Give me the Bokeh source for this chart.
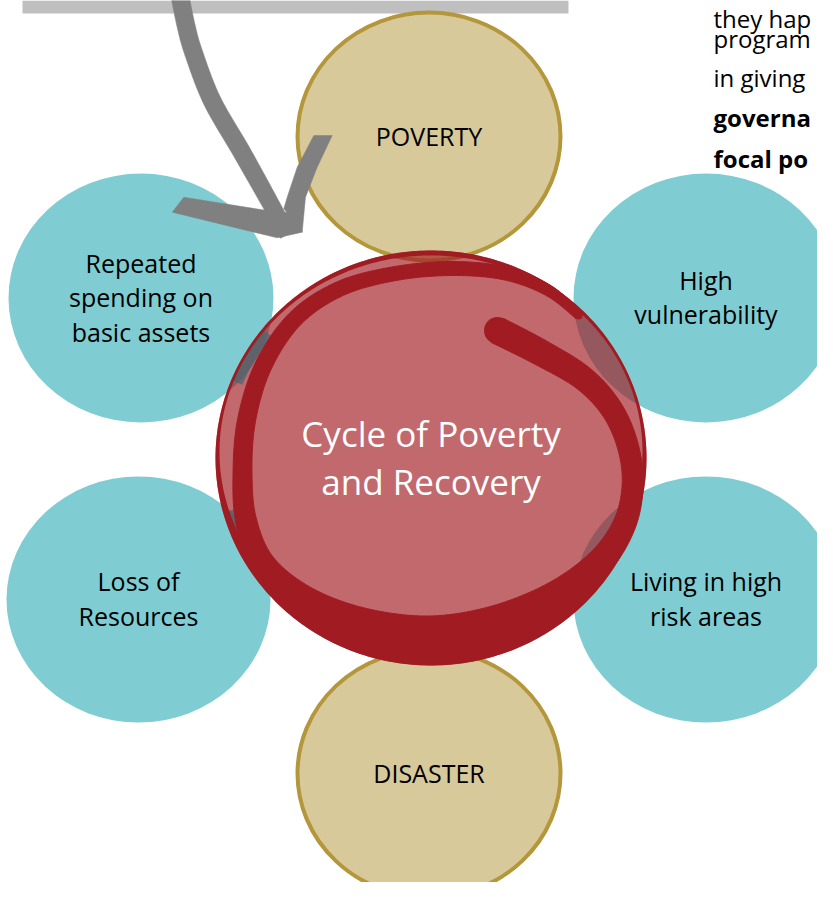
import numpy as np
from bokeh.plotting import figure
from bokeh.models import Range1d, ColumnDataSource
from bokeh.core.properties import value
from bokeh.embed import file_html
from bokeh.resources import INLINE

# ---------------- content ----------------
outer_labels = [["Repeated", "spending on", "basic assets"],
                ["High", "vulnerability"],
                ["Loss of", "Resources"],
                ["Living in high", "risk areas"]]
outer_cx = [140.5, 705.5, 138.0, 705.5]
outer_cy = [297.5, 297.5, 599.0, 599.0]
outer_rx = [132.5, 132.5, 132.0, 132.5]
outer_ry = [124.5, 124.5, 123.0, 123.0]

axis_labels = ["POVERTY", "DISASTER"]
axis_cx = [428.5, 428.5]
axis_cy = [136.0, 773.0]
axis_rx = 133.5
axis_ry = 126.0

center_lines = ["Cycle of Poverty", "and Recovery"]
center_c = (430.5, 457.5)
center_r = (215.5, 207.5)

side_text = ["they hap", "program", "in giving", "governa", "focal po"]
side_style = ["normal", "normal", "normal", "bold", "bold"]
side_base = [18, 38, 77, 117, 158]

# hand-drawn marker loop: centre line and stroke width
scrib_x = [497, 540, 583, 612, 628, 632, 623, 597, 552, 492, 428, 362, 305, 264, 246, 242, 246, 263, 295, 340, 395, 452, 505, 548, 578]
scrib_y = [330, 352, 378, 410, 448, 487, 526, 564, 598, 623, 633, 624, 600, 565, 522, 475, 420, 365, 318, 288, 273, 268, 273, 290, 315]
scrib_w = [27, 26, 24, 22, 21, 21, 23, 27, 31, 34, 35, 33, 28, 24, 21, 19, 18, 17, 16, 15, 14, 14, 13, 11, 8]

# grey arrow: curved shaft centre line + two head strokes (outlines)
shaft_x = [180.0, 185.5, 193.0, 211.5, 241.5, 270.0, 287.0]
shaft_y = [-2.0, 25.0, 52.0, 100.0, 152.0, 203.0, 234.0]
shaft_w = [18, 18, 18, 18, 18, 17, 16]
larm_x = [183.3, 171.7, 276.7, 301.7, 296.7, 261.7]
larm_y = [196.7, 211.7, 237.3, 231.7, 213.3, 209.3]
rarm_x = [313.3, 331.7, 316.7, 305.0, 301.7, 283.3, 286.7, 296.7]
rarm_y = [135.0, 135.0, 166.7, 196.7, 231.7, 208.3, 196.7, 166.7]

TEAL = "#7fcdd3"
BEIGE = "#d8c99b"
BEIGE_LINE = "#b5973b"
RED = "#a11c22"
GREY = "#808080"
FONT = "Open Sans"

# ---------------- figure ----------------
p = figure(width=817, height=882, x_range=Range1d(0, 817), y_range=Range1d(882, 0),
           output_backend="svg", toolbar_location=None, min_border=0,
           x_axis_type=None, y_axis_type=None)
p.outline_line_color = None
p.background_fill_color = "white"
p.border_fill_color = "white"


def catmull(pts, n=14):
    pts = np.asarray(pts, float)
    P = np.vstack([pts[0], pts, pts[-1]])
    out = []
    for i in range(1, len(P) - 2):
        p0, p1, p2, p3 = P[i - 1], P[i], P[i + 1], P[i + 2]
        for tt in np.linspace(0, 1, n, endpoint=False):
            t2, t3 = tt * tt, tt * tt * tt
            out.append(0.5 * ((2 * p1) + (-p0 + p2) * tt + (2 * p0 - 5 * p1 + 4 * p2 - p3) * t2
                              + (-p0 + 3 * p1 - 3 * p2 + p3) * t3))
    out.append(P[-2])
    return np.array(out)


def stroke_polygon(xs, ys, ws):
    S = catmull(np.column_stack([xs, ys, ws]))
    P2 = S[:, :2]
    W = S[:, 2]
    T = np.gradient(P2, axis=0)
    T /= np.linalg.norm(T, axis=1)[:, None]
    N = np.column_stack([-T[:, 1], T[:, 0]])
    L = P2 + N * W[:, None] / 2
    R = P2 - N * W[:, None] / 2
    poly = np.vstack([L, R[::-1]])
    return poly[:, 0], poly[:, 1]


# top grey bar
p.quad(left=[22], right=[568], top=[0], bottom=[13], fill_color="#bfbfbf", line_color=None)

# teal circles
p.ellipse(x=outer_cx, y=outer_cy, width=[2 * r for r in outer_rx], height=[2 * r for r in outer_ry],
          fill_color=TEAL, line_color=None)

# beige circles
p.ellipse(x=axis_cx, y=axis_cy, width=2 * axis_rx - 4, height=2 * axis_ry - 4,
          fill_color=BEIGE, line_color=BEIGE_LINE, line_width=4)

# central translucent disc
ccx, ccy = center_c
crx, cry = center_r
p.ellipse(x=[ccx], y=[ccy], width=[2 * crx], height=[2 * cry],
          fill_color=RED, fill_alpha=0.66, line_color=None)

# dark band where the disc edge lies over the teal circles
t = np.linspace(0, 2 * np.pi, 1441)
ex = ccx + (crx - 7) * np.cos(t)
ey = ccy + (cry - 7) * np.sin(t)
mask = np.zeros_like(t, dtype=bool)
for i in (0, 2, 3):
    mask |= ((ex - outer_cx[i]) / outer_rx[i]) ** 2 + ((ey - outer_cy[i]) / outer_ry[i]) ** 2 < 1
segs_x, segs_y = [], []
cur_x, cur_y = [], []
for k in range(len(t)):
    if mask[k]:
        cur_x.append(float(ex[k])); cur_y.append(float(ey[k]))
    elif cur_x:
        segs_x.append(cur_x); segs_y.append(cur_y); cur_x, cur_y = [], []
if cur_x:
    segs_x.append(cur_x); segs_y.append(cur_y)
if segs_x:
    p.multi_line(xs=segs_x, ys=segs_y, line_color="#4b6670", line_width=10, line_alpha=0.75)

# marker loop as a variable-width polygon
qx, qy = stroke_polygon(scrib_x, scrib_y, scrib_w)
p.patch(x=qx, y=qy, fill_color=RED, line_color=RED, line_width=1)
p.circle(x=[scrib_x[0], scrib_x[-1]], y=[scrib_y[0], scrib_y[-1]],
         radius=[scrib_w[0] / 2, scrib_w[-1] / 2], fill_color=RED, line_color=None)

# outline ring (thicker at the bottom)
oa = np.linspace(0, 2 * np.pi, 361)
ox = ccx + crx * np.cos(oa)
oy = ccy + cry * np.sin(oa)
ix = ccx + (crx - 4) * np.cos(oa)
iy = (ccy - 6) + (cry - 11) * np.sin(oa)
p.multi_polygons(xs=[[[list(ox), list(ix[::-1])]]], ys=[[[list(oy), list(iy[::-1])]]],
                 fill_color=RED, line_color=None)

# grey arrow
ax_, ay_ = stroke_polygon(shaft_x, shaft_y, shaft_w)
p.patches(xs=[list(ax_), larm_x, rarm_x], ys=[list(ay_), larm_y, rarm_y],
          fill_color=GREY, line_color=GREY, line_width=0.5)

# ---------------- texts ----------------
tx, ty, tt_ = [], [], []
for lines, cx, cy in zip(outer_labels, outer_cx, outer_cy):
    n = len(lines)
    for i, s in enumerate(lines):
        tx.append(cx); ty.append(cy - 1 + (i - (n - 1) / 2) * 34.5); tt_.append(s)
for s, cx, cy in zip(axis_labels, axis_cx, axis_cy):
    tx.append(cx); ty.append(cy - 1); tt_.append(s)
p.text(x=tx, y=ty, text=tt_, text_align="center", text_baseline="alphabetic",
       text_font=value(FONT), text_font_size="25px", text_color="black")

cy_lines = [ccy - 1 + (i - 0.5) * 48 for i in range(len(center_lines))]
p.text(x=[ccx] * len(center_lines), y=cy_lines, text=center_lines, text_align="center",
       text_baseline="alphabetic", text_font=value(FONT), text_font_size="35px", text_color="white")

side_src = ColumnDataSource(dict(x=[713] * len(side_text), y=side_base,
                                 text=side_text, style=side_style))
p.text(x="x", y="y", text="text", source=side_src, text_align="left", text_baseline="alphabetic",
       text_font=value(FONT), text_font_size="24px", text_font_style="style", text_color="black")

open("out.html", "w").write(file_html(p, INLINE))
